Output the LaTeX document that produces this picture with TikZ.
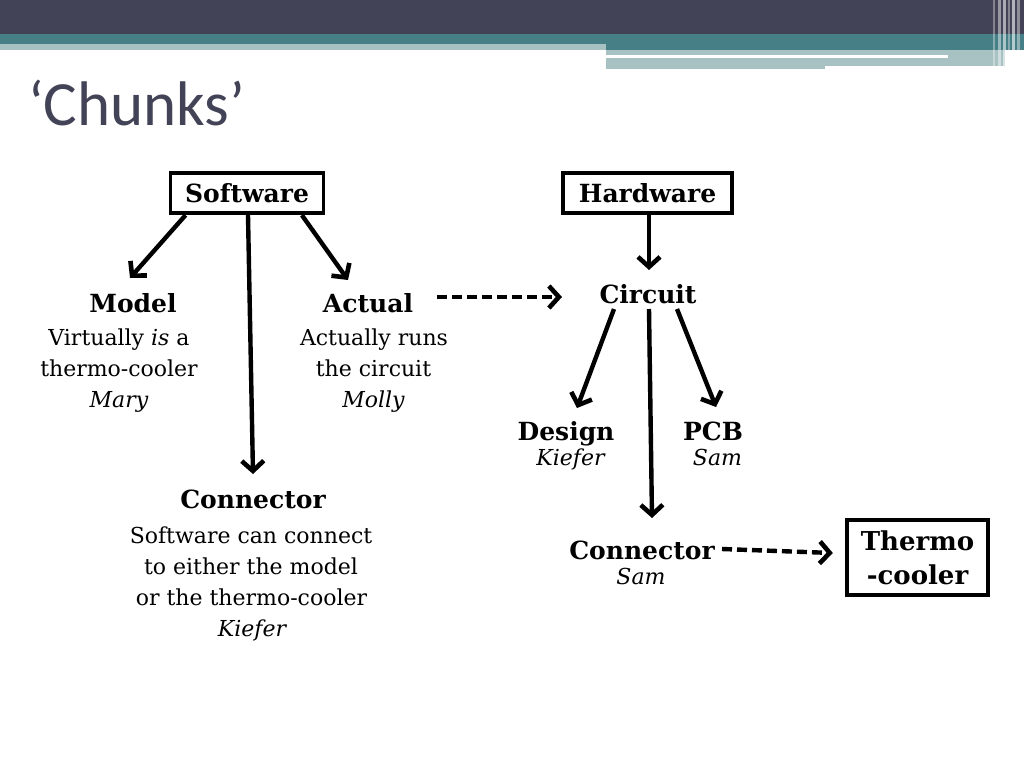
\documentclass[tikz,border=0pt]{standalone}
\usepackage{fontspec}
\setmainfont{DejaVu Serif}
\newfontfamily\titlefont{Carlito}
\usetikzlibrary{arrows.meta,calc}
\definecolor{hdark}{HTML}{424356}
\definecolor{hteal}{HTML}{468086}
\definecolor{hlight}{HTML}{A8C2C4}
\tikzset{
  lbl/.style={font=\fontsize{25}{30}\selectfont\bfseries, anchor=base, inner sep=2pt},
  txt/.style={font=\fontsize{22}{31}\selectfont, anchor=base, inner sep=2pt},
  nm/.style={font=\fontsize{22}{31}\selectfont\itshape, anchor=base, inner sep=2pt},
  boxed/.style={draw, line width=3.8pt, font=\fontsize{25}{30}\selectfont\bfseries, inner sep=2pt},
  arr/.style={line width=4.4pt, -{Straight Barb[length=10pt,width=22pt,line width=4.6pt]}},
  dasharr/.style={line width=4.4pt, dash pattern=on 10pt off 5pt, -{Straight Barb[length=10pt,width=22pt,line width=4.6pt]}},
  stripe/.style={fill=white}
}
\begin{document}
\begin{tikzpicture}[x=1pt,y=-1pt]
\useasboundingbox (0,0) rectangle (1024,768);
\fill[white] (0,0) rectangle (1024,768);
% header
\fill[hdark] (0,0) rectangle (1024,34);
\fill[hteal] (0,34) rectangle (1024,44);
\fill[hteal] (606,44) rectangle (1024,50);
\fill[hlight] (0,44) rectangle (606,50);
\fill[hlight] (606,50) rectangle (1005,66);
\fill[hlight] (606,66) rectangle (825,69);
\fill[white] (606,55) rectangle (948,58);
\fill[stripe, opacity=0.35] (993,0) rectangle (995,66);
\fill[stripe, opacity=0.45] (998,0) rectangle (1001,66);
\fill[stripe, opacity=0.55] (1003,0) rectangle (1006,68);
\fill[stripe, opacity=0.35] (1008,0) rectangle (1010,68);
\fill[stripe, opacity=0.6] (1012,0) rectangle (1015,68);
\fill[stripe, opacity=0.4] (1017,0) rectangle (1020,68);
% title
\node[font=\titlefont\fontsize{63}{70}\selectfont, text=hdark, anchor=base west, inner sep=0pt] (title) at (28,125) {‘Chunks’};

% boxes
\node[boxed, minimum width=153pt, minimum height=40.5pt] (sw) at (247,193) {Software};
\node[boxed, minimum width=169.5pt, minimum height=40.5pt] (hw) at (647.5,193) {Hardware};
\node[boxed, minimum width=141.5pt, minimum height=75.5pt, align=center,
      font=\fontsize{26}{34}\selectfont\bfseries] (tc) at (917.5,557.5) {Thermo\\-cooler};

% software side
\node[lbl] (model) at (133,312) {Model};
\node[txt] (model1) at (119,345) {Virtually \textit{is} a};
\node[txt] (model2) at (119,376) {thermo-cooler};
\node[nm] (model3) at (119,407) {Mary};

\node[lbl] (actual) at (368,312) {Actual};
\node[txt] (actual1) at (374,345) {Actually runs};
\node[txt] (actual2) at (373.5,376) {the circuit};
\node[nm] (actual3) at (373.5,407) {Molly};

\node[lbl] (conn) at (253,508) {Connector};
\node[txt] (conn1) at (251,543) {Software can connect};
\node[txt] (conn2) at (251,574) {to either the model};
\node[txt] (conn3) at (251.5,605) {or the thermo-cooler};
\node[nm] (conn4) at (252,636) {Kiefer};

% hardware side
\node[lbl] (circuit) at (648,303) {Circuit};
\node[lbl] (design) at (566,440) {Design};
\node[nm] (design1) at (570.5,465) {Kiefer};
\node[lbl] (pcb) at (713,440) {PCB};
\node[nm] (pcb1) at (717.5,465) {Sam};
\node[lbl] (hconn) at (642,559) {Connector};
\node[nm] (hconn1) at (641,584) {Sam};

% connectors
\draw[arr] ($(sw.south west)!0.108!(sw.south east)$) -- ($(model.base)+(-3,-34)$);
\draw[arr] ($(sw.south)+(1,0)$) -- ($(conn.base)+(0,-34)$);
\draw[arr] ($(sw.south west)!0.85!(sw.south east)$) -- ($(actual.base)+(-20,-32)$);
\draw[dasharr] ($(actual.base)+(69,-15)$) -- ($(circuit.base)+(-86,-6)$);

\draw[arr] ($(hw.south)+(1.5,0)$) -- ($(circuit.base)+(1,-33)$);
\draw[arr] ($(circuit.base)+(-34,6)$) -- ($(design.base)+(11,-32)$);
\draw[arr] ($(circuit.base)+(1,6)$) -- ($(hconn.base)+(10,-41)$);
\draw[arr] ($(circuit.base)+(29,6)$) -- ($(pcb.base)+(3,-33)$);
\draw[dasharr] ($(hconn.base)+(80,-10)$) -- ($(tc.west)+(-12,-4.5)$);
\end{tikzpicture}
\end{document}
